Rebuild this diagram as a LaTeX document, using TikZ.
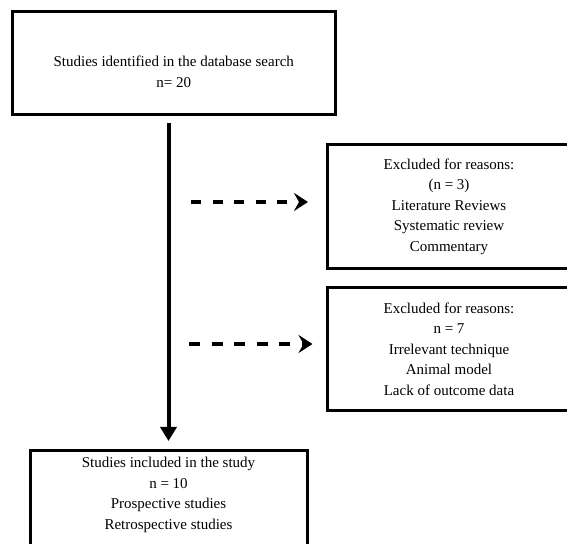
\documentclass[tikz,border=0pt]{standalone}
\usepackage{fontspec}
\setmainfont{Liberation Serif}
\usepackage{tikz}
\usetikzlibrary{arrows.meta,positioning,calc}

\begin{document}
\begin{tikzpicture}[x=1pt,y=1pt,
  flowbox/.style={draw,line width=3pt,align=center,inner xsep=0pt,inner ysep=7pt,font=\fontsize{15}{20.5}\selectfont},
  trunk/.style={line width=4pt,-{Triangle[length=14pt,width=16pt]}},
  sidearrow/.style={line width=4.5pt,-{Stealth[length=14pt,width=18pt,inset=5pt]}}]
\useasboundingbox (0,0) rectangle (567,543);
\node[flowbox,minimum width=323.5pt,minimum height=103pt] (search) at (173.75,479.5)
  {\rule{0pt}{27pt}Studies identified in the database search\\n= 20};
\node[flowbox,minimum width=244pt,minimum height=124pt] (excl1) at (449,336.5)
  {Excluded for reasons:\\(n = 3)\\Literature Reviews\\Systematic review\\Commentary};
\node[flowbox,minimum width=244pt,minimum height=123pt,below=16pt of excl1.south west,anchor=north west] (excl2)
  {Excluded for reasons:\\n = 7\\Irrelevant technique\\Animal model\\Lack of outcome data};
\coordinate (trunktop) at ($(search.south)+(-5.25,0)$);
\node[flowbox,minimum width=277pt,below=332.5pt of trunktop] (incl)
  {Studies included in the study\\n = 10\\Prospective studies\\Retrospective studies\rule[-12pt]{0pt}{0pt}};
% main flow
\draw[trunk,shorten <=6.5pt,shorten >=8pt] (trunktop) -- (incl.north);
% exclusions
\coordinate (fork1) at (168.5,341);
\coordinate (fork2) at (168.5,199);
\draw[sidearrow,dash pattern=on 10pt off 11.5pt,shorten <=22.5pt,shorten >=17.5pt] (fork1) -- (fork1 -| excl1.west);
\draw[sidearrow,dash pattern=on 11pt off 11.5pt,shorten <=20.5pt,shorten >=13pt] (fork2) -- (fork2 -| excl2.west);
\end{tikzpicture}
\end{document}
